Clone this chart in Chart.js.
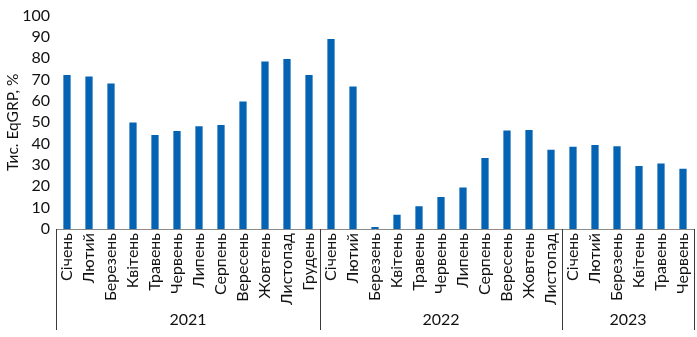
<!DOCTYPE html>
<html>
<head>
<meta charset="utf-8">
<script src="https://cdn.jsdelivr.net/npm/chart.js@4/dist/chart.umd.min.js"></script>
<style>
  html, body { margin: 0; padding: 0; background: #fff; }
  #wrap { width: 697px; height: 337px; position: relative; }
</style>
</head>
<body>
<div id="wrap"><canvas id="chart"></canvas></div>
<script>
const months = [
  'Січень', 'Лютий', 'Березень', 'Квітень', 'Травень', 'Червень',
  'Липень', 'Серпень', 'Вересень', 'Жовтень', 'Листопад', 'Грудень',
  'Січень', 'Лютий', 'Березень', 'Квітень', 'Травень', 'Червень',
  'Липень', 'Серпень', 'Вересень', 'Жовтень', 'Листопад',
  'Січень', 'Лютий', 'Березень', 'Квітень', 'Травень', 'Червень',
]
const years = ['2021', '2022', '2023']
const yearCounts = [12, 11, 6]
const values = [
  72.2, 71.5, 68.2, 49.9, 44.0, 45.9, 48.2, 48.7, 59.7, 78.5, 79.7, 72.2,
  89.0, 66.8, 0.9, 6.7, 10.7, 15.0, 19.5, 33.3, 46.2, 46.4, 37.1,
  38.6, 39.4, 38.8, 29.5, 30.7, 28.2,
]
const yTicks = [0, 10, 20, 30, 40, 50, 60, 70, 80, 90, 100]
const yTitle = 'Тис. EqGRP, %'

const FONT = 'Lato, "Open Sans", sans-serif'
const BAR_COLOR = '#0563b3'

// year row under the rotated month labels, with separator lines between groups
const yearGroups = {
  id: 'yearGroups',
  afterDraw(chart) {
    const { ctx, chartArea, scales } = chart
    const x = scales.x
    const half = (x.getPixelForTick(1) - x.getPixelForTick(0)) / 2
    const bottom = chart.height - 7
    ctx.save()
    ctx.strokeStyle = '#3a3a3a'
    ctx.lineWidth = 1
    ctx.fillStyle = '#111'
    ctx.font = `16px ${FONT}`
    ctx.textAlign = 'center'
    ctx.textBaseline = 'middle'
    let start = 0
    const edges = [x.getPixelForTick(0) - half]
    yearCounts.forEach((count, i) => {
      const end = start + count - 1
      const left = x.getPixelForTick(start) - half
      const right = x.getPixelForTick(end) + half
      edges.push(right)
      ctx.fillText(years[i], (left + right) / 2, bottom - 10)
      start += count
    })
    edges.forEach((px) => {
      const p = Math.round(px) + 0.5
      ctx.beginPath()
      ctx.moveTo(p, chartArea.bottom)
      ctx.lineTo(p, bottom)
      ctx.stroke()
    })
    ctx.restore()
  },
}

const ctx = document.getElementById('chart').getContext('2d')
new Chart(ctx, {
  type: 'bar',
  data: {
    labels: months,
    datasets: [{
      data: values,
      backgroundColor: BAR_COLOR,
      borderWidth: 0,
      barPercentage: 0.33,
      categoryPercentage: 1,
    }],
  },
  options: {
    responsive: true,
    maintainAspectRatio: false,
    animation: false,
    layout: { padding: { top: 14, right: 3, left: 0, bottom: 0 } },
    plugins: {
      legend: { display: false },
      tooltip: { enabled: false },
    },
    scales: {
      x: {
        grid: { display: false, drawTicks: false },
        border: { display: true, color: '#8a8a8a', width: 1 },
        ticks: {
          color: '#111',
          font: { family: FONT, size: 16 },
          minRotation: 90,
          maxRotation: 90,
          autoSkip: false,
          padding: 4,
        },
        afterFit(scale) {
          scale.height = 108
          scale.paddingLeft = 0
          scale.paddingRight = 0
        },
      },
      y: {
        min: 0,
        max: 100,
        afterBuildTicks(scale) { scale.ticks = yTicks.map((v) => ({ value: v })) },
        grid: { display: false, drawTicks: false },
        border: { display: false },
        ticks: {
          color: '#111',
          font: { family: FONT, size: 16 },
          padding: 6,
          autoSkip: false,
        },
        title: {
          display: true,
          text: yTitle,
          color: '#111',
          font: { family: FONT, size: 15.5 },
          padding: { top: 4, bottom: 0 },
        },
        afterFit(scale) { scale.width = 56 },
      },
    },
  },
  plugins: [yearGroups],
})
</script>
</body>
</html>
